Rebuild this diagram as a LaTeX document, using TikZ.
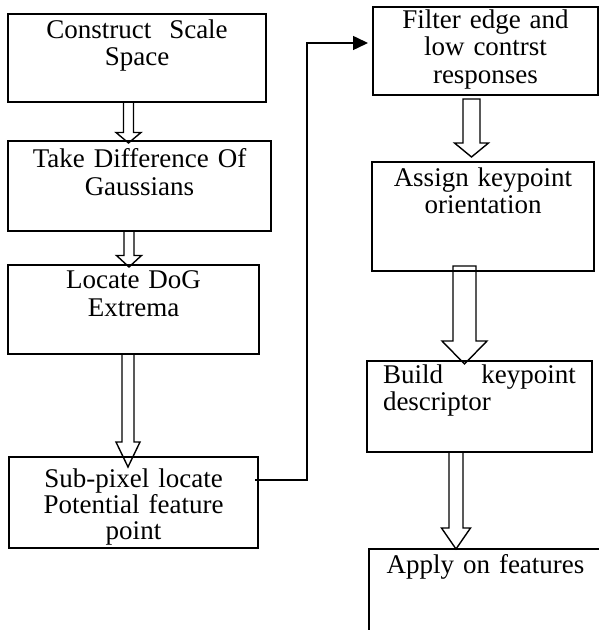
\documentclass[tikz,border=0pt]{standalone}
\usepackage{fontspec}
\setmainfont{Liberation Serif}
\usetikzlibrary{arrows.meta,calc}

\newcommand{\hollowarrow}[8]{%
	\draw[blockline] let \p1=(#1.south), \p2=(#2.north) in
	({#3pt-#4pt},{\y1+(#7pt)}) -- ({#3pt-#4pt},{\y2+(#8pt)+#6pt}) -- ({#3pt-#5pt},{\y2+(#8pt)+#6pt})
	-- ({#3pt},{\y2+(#8pt)}) -- ({#3pt+#5pt},{\y2+(#8pt)+#6pt}) -- ({#3pt+#4pt},{\y2+(#8pt)+#6pt})
	-- ({#3pt+#4pt},{\y1+(#7pt)}) -- cycle;}

\begin{document}
\begin{tikzpicture}[
		x=1pt, y=1pt,
		box/.style={draw, line width=1.5pt, inner sep=0pt, outer sep=0pt},
		txt/.style={font=\fontsize{27}{27.5}\selectfont, align=center, inner sep=0pt, anchor=north, yshift=-5.5pt},
		blockline/.style={line width=1.4pt, line join=miter},
		link/.style={line width=1.5pt, -{Triangle[length=15pt,width=14pt]}}
		]
		\useasboundingbox (0,0) rectangle (599,630);
		\clip (0,0) rectangle (599,630);
		\node[box, minimum width=258pt, minimum height=88pt,
			label={[txt, text width=250pt]north:{Construct~ Scale\\Space}}] (B1) at (137,572) {};
		\node[box, minimum width=263pt, minimum height=90pt,
			label={[txt, text width=255pt, yshift=-2pt]north:{Take Difference Of\\Gaussians}}] (B2) at (139.5,444) {};
		\node[box, minimum width=251pt, minimum height=89pt,
			label={[txt, text width=240pt]north:{Locate DoG\\Extrema}}] (B3) at (133.5,320.5) {};
		\node[box, minimum width=249pt, minimum height=91pt,
			label={[txt, text width=240pt, yshift=-6pt, font=\fontsize{27}{26}\selectfont]north:{Sub-pixel locate\\Potential feature\\point}}] (B4) at (133.5,127.5) {};
		\node[box, minimum width=225pt, minimum height=88pt,
			label={[txt, text width=215pt, yshift=3pt]north:{Filter edge and\\low contrst\\responses}}] (B5) at (485.5,579) {};
		\node[box, minimum width=222pt, minimum height=109pt,
			label={[txt, text width=215pt]north:{Assign keypoint\\orientation}}] (B6) at (483,413.5) {};
		\node[box, minimum width=225pt, minimum height=91pt,
			label={[txt, text width=193pt, align=left, yshift=2pt]north:{Build\hfill keypoint\\descriptor}}] (B7) at (479.5,223.5) {};
		\node[box, minimum width=233pt, minimum height=100pt,
			label={[txt, text width=225pt]north:{Apply on features}}] (B8) at (485.5,31) {};

		\hollowarrow{B1}{B2}{128.5}{5}{12.5}{10.5}{0}{-2}
		\hollowarrow{B2}{B3}{129}{5}{12.5}{11.5}{0}{-2}
		\hollowarrow{B3}{B4}{128}{6}{12}{25}{0}{-10}
		\hollowarrow{B5}{B6}{471.5}{8.5}{17}{14}{-4}{5}
		\hollowarrow{B6}{B7}{464.5}{11.5}{22.5}{23}{5}{-3}
		\hollowarrow{B7}{B8}{456}{7}{14.5}{21}{0}{0}

		\draw[link] ([xshift=-3pt, yshift=22.5pt]B4.east) -- ++(52,0) |- ([xshift=-5pt, yshift=8pt]B5.west);
	\end{tikzpicture}
\end{document}
